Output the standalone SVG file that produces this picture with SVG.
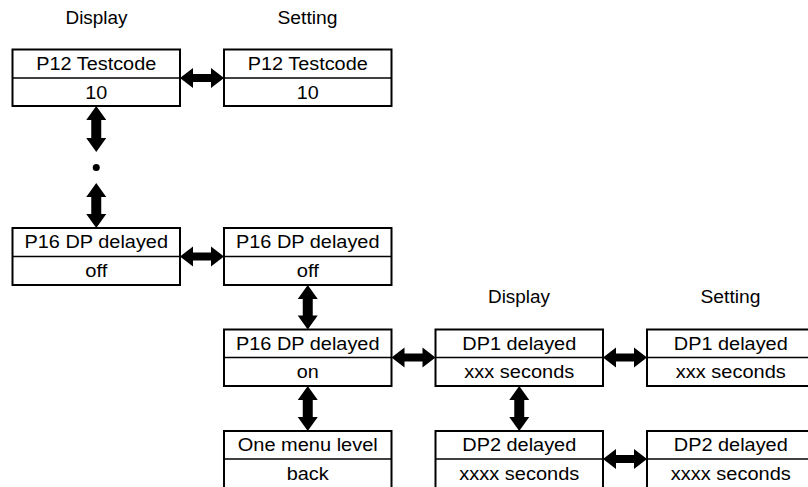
<svg xmlns="http://www.w3.org/2000/svg" width="808" height="487" viewBox="0 0 808 487">
<style>
  .box { fill: #ffffff; stroke: #000000; stroke-width: 2; }
  .div { stroke: #000000; stroke-width: 1.6; }
  .t { font-family: "Liberation Sans", Arial, sans-serif; font-size: 17.5px; fill: #000000; text-anchor: middle; }
  .arrow { fill: #000000; stroke: none; }
</style>
<rect x="0" y="0" width="808" height="487" fill="#ffffff"/>

<text class="t" x="96.5" y="24" textLength="62" lengthAdjust="spacingAndGlyphs">Display</text>
<text class="t" x="307.5" y="24" textLength="60" lengthAdjust="spacingAndGlyphs">Setting</text>
<text class="t" x="519" y="303" textLength="62" lengthAdjust="spacingAndGlyphs">Display</text>
<text class="t" x="730.5" y="303" textLength="60" lengthAdjust="spacingAndGlyphs">Setting</text>

<g id="n-p12-display">
  <rect class="box" x="12.5" y="49.5" width="167.5" height="56.5"/>
  <line class="div" x1="12.5" y1="78" x2="180" y2="78"/>
  <text class="t" x="96.25" y="69.5" textLength="120" lengthAdjust="spacingAndGlyphs">P12 Testcode</text>
  <text class="t" x="96.25" y="98.5" textLength="22" lengthAdjust="spacingAndGlyphs">10</text>
</g>
<g id="n-p12-setting">
  <rect class="box" x="224" y="49.5" width="167.5" height="56.5"/>
  <line class="div" x1="224" y1="78" x2="391.5" y2="78"/>
  <text class="t" x="307.75" y="69.5" textLength="120" lengthAdjust="spacingAndGlyphs">P12 Testcode</text>
  <text class="t" x="307.75" y="98.5" textLength="22" lengthAdjust="spacingAndGlyphs">10</text>
</g>
<g id="n-p16-display">
  <rect class="box" x="12.5" y="228" width="167.5" height="57"/>
  <line class="div" x1="12.5" y1="256.5" x2="180" y2="256.5"/>
  <text class="t" x="96.25" y="248" textLength="143.5" lengthAdjust="spacingAndGlyphs">P16 DP delayed</text>
  <text class="t" x="96.25" y="277" textLength="22" lengthAdjust="spacingAndGlyphs">off</text>
</g>
<g id="n-p16-off">
  <rect class="box" x="224" y="228" width="167.5" height="57"/>
  <line class="div" x1="224" y1="256.5" x2="391.5" y2="256.5"/>
  <text class="t" x="307.75" y="248" textLength="143.5" lengthAdjust="spacingAndGlyphs">P16 DP delayed</text>
  <text class="t" x="307.75" y="277" textLength="22" lengthAdjust="spacingAndGlyphs">off</text>
</g>
<g id="n-p16-on">
  <rect class="box" x="224" y="329.5" width="167.5" height="56.5"/>
  <line class="div" x1="224" y1="357.5" x2="391.5" y2="357.5"/>
  <text class="t" x="307.75" y="349.5" textLength="143.5" lengthAdjust="spacingAndGlyphs">P16 DP delayed</text>
  <text class="t" x="307.75" y="378" textLength="22" lengthAdjust="spacingAndGlyphs">on</text>
</g>
<g id="n-back">
  <rect class="box" x="224" y="431" width="167.5" height="57"/>
  <line class="div" x1="224" y1="459" x2="391.5" y2="459"/>
  <text class="t" x="307.75" y="451" textLength="140" lengthAdjust="spacingAndGlyphs">One menu level</text>
  <text class="t" x="307.75" y="480" textLength="42" lengthAdjust="spacingAndGlyphs">back</text>
</g>
<g id="n-dp1-display">
  <rect class="box" x="435.5" y="329.5" width="167.5" height="56.5"/>
  <line class="div" x1="435.5" y1="357.5" x2="603" y2="357.5"/>
  <text class="t" x="519.25" y="349.5" textLength="114" lengthAdjust="spacingAndGlyphs">DP1 delayed</text>
  <text class="t" x="519.25" y="378" textLength="110" lengthAdjust="spacingAndGlyphs">xxx seconds</text>
</g>
<g id="n-dp1-setting">
  <rect class="box" x="647" y="329.5" width="167.5" height="56.5"/>
  <line class="div" x1="647" y1="357.5" x2="814.5" y2="357.5"/>
  <text class="t" x="730.75" y="349.5" textLength="114" lengthAdjust="spacingAndGlyphs">DP1 delayed</text>
  <text class="t" x="730.75" y="378" textLength="110" lengthAdjust="spacingAndGlyphs">xxx seconds</text>
</g>
<g id="n-dp2-display">
  <rect class="box" x="435.5" y="431" width="167.5" height="57"/>
  <line class="div" x1="435.5" y1="459" x2="603" y2="459"/>
  <text class="t" x="519.25" y="451" textLength="114" lengthAdjust="spacingAndGlyphs">DP2 delayed</text>
  <text class="t" x="519.25" y="480" textLength="120" lengthAdjust="spacingAndGlyphs">xxxx seconds</text>
</g>
<g id="n-dp2-setting">
  <rect class="box" x="647" y="431" width="167.5" height="57"/>
  <line class="div" x1="647" y1="459" x2="814.5" y2="459"/>
  <text class="t" x="730.75" y="451" textLength="114" lengthAdjust="spacingAndGlyphs">DP2 delayed</text>
  <text class="t" x="730.75" y="480" textLength="120" lengthAdjust="spacingAndGlyphs">xxxx seconds</text>
</g>

<g id="connectors">
  <path class="arrow" d="M180 78 L193 68 L193 74 L211 74 L211 68 L224 78 L211 88 L211 82 L193 82 L193 88 Z"/>
  <path class="arrow" d="M180 256.5 L193 246.5 L193 252.5 L211 252.5 L211 246.5 L224 256.5 L211 266.5 L211 260.5 L193 260.5 L193 266.5 Z"/>
  <path class="arrow" d="M391.5 357.5 L404.5 347.5 L404.5 353.5 L422.5 353.5 L422.5 347.5 L435.5 357.5 L422.5 367.5 L422.5 361.5 L404.5 361.5 L404.5 367.5 Z"/>
  <path class="arrow" d="M603 357.5 L616 347.5 L616 353.5 L634 353.5 L634 347.5 L647 357.5 L634 367.5 L634 361.5 L616 361.5 L616 367.5 Z"/>
  <path class="arrow" d="M603 459 L616 449 L616 455 L634 455 L634 449 L647 459 L634 469 L634 463 L616 463 L616 469 Z"/>
  <path class="arrow" d="M96.25 106 L106.25 120 L101.25 120 L101.25 138 L106.25 138 L96.25 152 L86.25 138 L91.25 138 L91.25 120 L86.25 120 Z"/>
  <circle class="arrow" cx="96.25" cy="167.5" r="3.5"/>
  <path class="arrow" d="M96.25 183 L106.25 197 L101.25 197 L101.25 214 L106.25 214 L96.25 228 L86.25 214 L91.25 214 L91.25 197 L86.25 197 Z"/>
  <path class="arrow" d="M307.75 285 L317.75 299 L312.75 299 L312.75 315.5 L317.75 315.5 L307.75 329.5 L297.75 315.5 L302.75 315.5 L302.75 299 L297.75 299 Z"/>
  <path class="arrow" d="M307.75 386 L317.75 400 L312.75 400 L312.75 417 L317.75 417 L307.75 431 L297.75 417 L302.75 417 L302.75 400 L297.75 400 Z"/>
  <path class="arrow" d="M519.25 386 L529.25 400 L524.25 400 L524.25 417 L529.25 417 L519.25 431 L509.25 417 L514.25 417 L514.25 400 L509.25 400 Z"/>
</g>
</svg>
